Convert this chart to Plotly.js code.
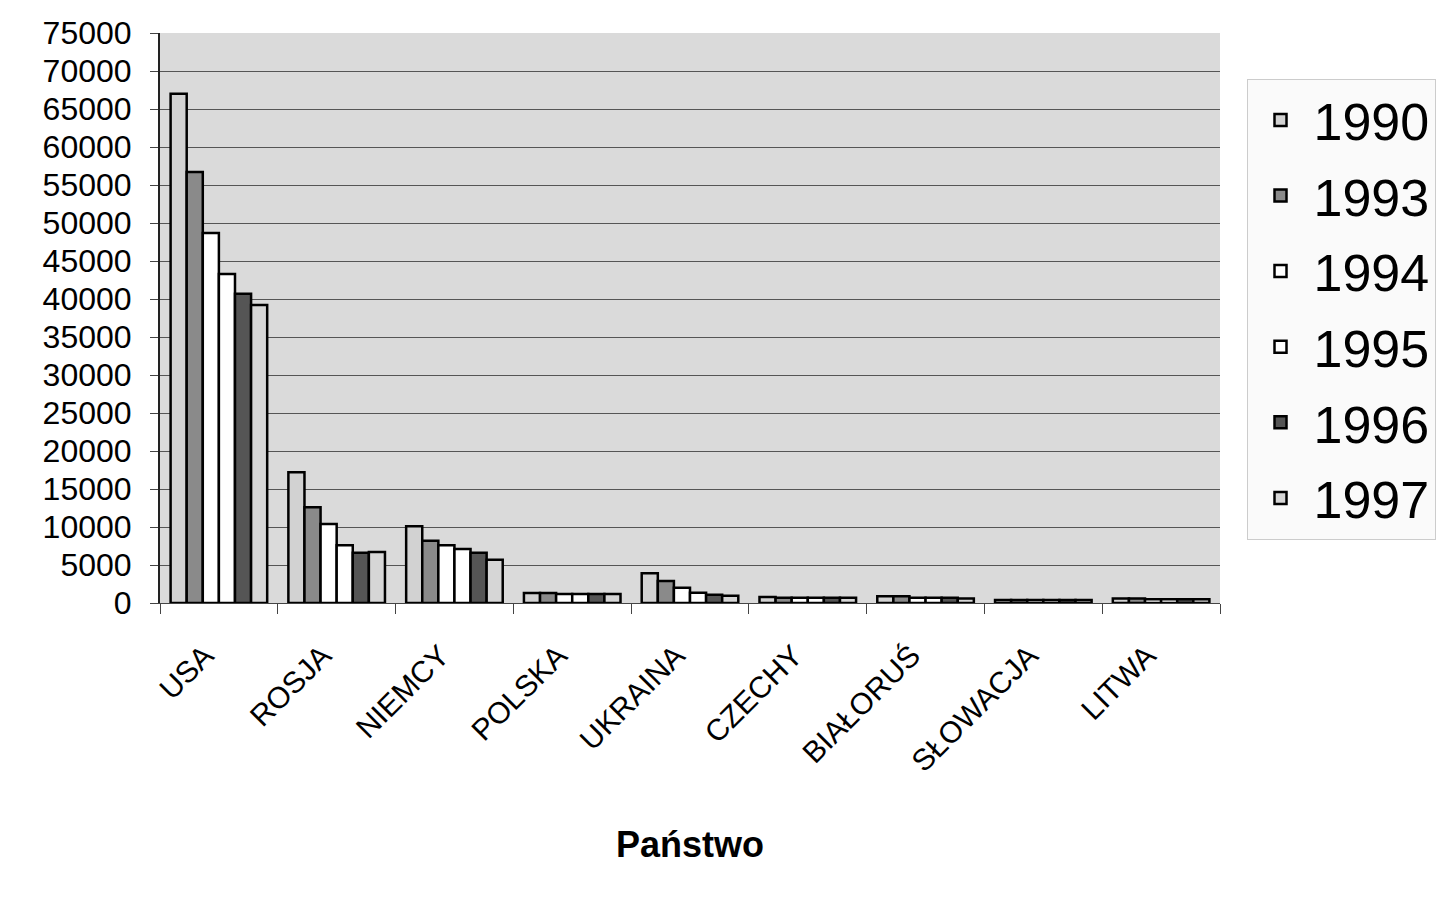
<!DOCTYPE html>
<html>
<head>
<meta charset="utf-8">
<script src="https://cdn.plot.ly/plotly-3.0.1.min.js"></script>
<style>html,body{margin:0;padding:0;background:#fff;}#chart{width:1436px;height:900px;}</style>
</head>
<body>
<div id="chart"></div>
<script>
const categories = ["USA", "ROSJA", "NIEMCY", "POLSKA", "UKRAINA", "CZECHY", "BIAŁORUŚ", "SŁOWACJA", "LITWA"];
const years = ["1990", "1993", "1994", "1995", "1996", "1997"];
const v1990 = [67000, 17200, 10100, 1300, 3900, 800, 900, 400, 600];
const v1993 = [56700, 12600, 8200, 1300, 2900, 700, 900, 400, 600];
const v1994 = [48700, 10400, 7600, 1200, 2000, 700, 700, 400, 500];
const v1995 = [43300, 7600, 7100, 1200, 1350, 700, 700, 400, 500];
const v1996 = [40700, 6600, 6600, 1200, 1100, 700, 700, 400, 500];
const v1997 = [39200, 6700, 5700, 1200, 950, 700, 600, 400, 500];
const seriesValues = [v1990, v1993, v1994, v1995, v1996, v1997];
const fills = ["#d2d2d2", "#8a8a8a", "#ffffff", "#ffffff", "#555555", "#d6d6d6"];

const traces = years.map((y, i) => ({
  type: "bar",
  name: y,
  x: categories,
  y: seriesValues[i],
  legendgroup: "g" + i,
  marker: {color: fills[i], line: {color: "#000", width: 2.5}}
}));

const layout = {
  width: 1436, height: 900,
  paper_bgcolor: "#ffffff",
  plot_bgcolor: "#dadada",
  margin: {l: 160, r: 216, t: 33, b: 297, autoexpand: false},
  barmode: "group",
  bargap: 0.18,
  bargroupgap: 0,
  font: {family: "Liberation Sans, Arial, sans-serif", color: "#000"},
  xaxis: {
    type: "category",
    tickangle: -45,
    tickfont: {size: 30},
    ticks: "outside",
    tickson: "boundaries",
    ticklen: 10,
    tickcolor: "#444",
    ticklabelstandoff: 22,
    ticklabelshift: -14,
    showline: true, linecolor: "#444", linewidth: 1,
    showgrid: false,
    title: {text: "<b>Państwo</b>", font: {size: 36}, standoff: 55}
  },
  yaxis: {
    range: [0, 75000],
    dtick: 5000,
    tickformat: "d",
    tickfont: {size: 32},
    ticks: "outside", ticklen: 8, tickcolor: "#444",
    ticklabelstandoff: 12,
    showline: true, linecolor: "#222", linewidth: 2,
    gridcolor: "#555", gridwidth: 1,
    zeroline: false
  },
  legend: {
    x: 1.025, y: 0.92, xanchor: "left", yanchor: "top",
    font: {size: 52},
    bgcolor: "#fafafa",
    bordercolor: "#cccccc", borderwidth: 1,
    tracegroupgap: 5,
    itemwidth: 56
  },
  showlegend: true
};

Plotly.newPlot("chart", traces, layout, {displayModeBar: false, staticPlot: true});
</script>
</body>
</html>
